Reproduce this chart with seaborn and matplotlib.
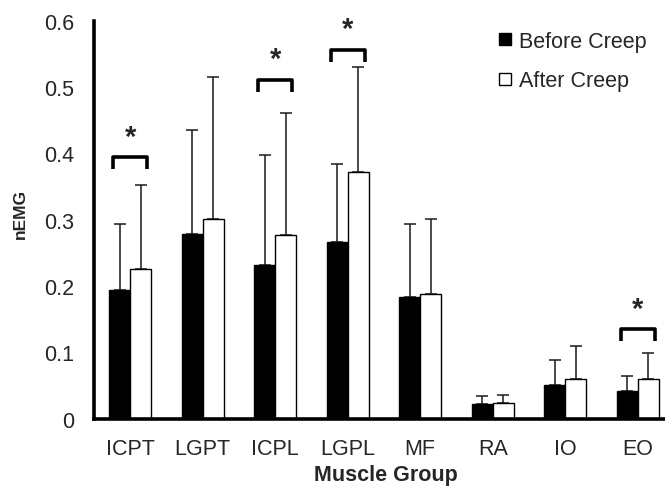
import numpy as np
import pandas as pd
import seaborn as sns
import matplotlib
matplotlib.use("Agg")
import matplotlib.pyplot as plt
from matplotlib.lines import Line2D

# ---- data ----
muscles = ["ICPT", "LGPT", "ICPL", "LGPL", "MF", "RA", "IO", "EO"]
before_mean = [0.194, 0.278, 0.231, 0.266, 0.184, 0.022, 0.051, 0.042]
before_upper = [0.294, 0.435, 0.397, 0.384, 0.294, 0.034, 0.089, 0.064]
after_mean = [0.225, 0.301, 0.277, 0.372, 0.188, 0.023, 0.059, 0.060]
after_upper = [0.352, 0.515, 0.461, 0.531, 0.301, 0.036, 0.109, 0.099]
sig_groups = ["ICPT", "ICPL", "LGPL", "EO"]
sig_levels = [0.394, 0.511, 0.556, 0.135]
conditions = ["Before Creep", "After Creep"]
yticks = [0, 0.1, 0.2, 0.3, 0.4, 0.5, 0.6]
ytick_labels = ["0", "0.1", "0.2", "0.3", "0.4", "0.5", "0.6"]

df = pd.DataFrame({
    "Muscle": muscles * 2,
    "Condition": [conditions[0]] * len(muscles) + [conditions[1]] * len(muscles),
    "nEMG": before_mean + after_mean,
    "upper": before_upper + after_upper,
})

sns.set_style("white")
plt.rcParams["font.family"] = ["Liberation Sans", "DejaVu Sans"]

fig = plt.figure(figsize=(6.65, 4.89), dpi=100)
ax = fig.add_axes([94 / 665, 69.4 / 489, 580 / 665, 397.8 / 489])

sns.barplot(data=df, x="Muscle", y="nEMG", hue="Condition", order=muscles,
            hue_order=conditions, palette=["black", "white"], edgecolor="black",
            linewidth=1.0, width=0.58, gap=0, errorbar=None, legend=False, ax=ax)

# error bars (upper only) from bar patches
patches = [p for p in ax.patches if p.get_width() > 0]
patches = sorted(patches, key=lambda p: p.get_x())
uppers = []
for b, a in zip(before_upper, after_upper):
    uppers += [b, a]
xs = [p.get_x() + p.get_width() / 2 for p in patches]
hs = [p.get_height() for p in patches]
ax.errorbar(xs, hs, yerr=[np.zeros(len(hs)), np.array(uppers) - np.array(hs)],
            fmt="none", ecolor="#1a1a1a", elinewidth=1.1, capsize=4, capthick=1.1,
            zorder=1)
for p in patches:
    p.set_zorder(2)

# significance brackets
for g, lvl in zip(sig_groups, sig_levels):
    c = muscles.index(g)
    x0, x1 = c - 0.235, c + 0.235
    ax.plot([x0, x0, x1, x1], [lvl - 0.018, lvl, lvl, lvl - 0.018], color="black",
            lw=2.6, solid_joinstyle="round", solid_capstyle="butt", clip_on=False)
    ax.text(c, lvl + 0.031, "*", ha="center", va="center", fontsize=21,
            fontweight="bold", clip_on=False)

ax.set_xlim(-0.5, len(muscles) - 0.5)
ax.set_ylim(0, 0.6)
ax.set_yticks(yticks)
ax.set_yticklabels(ytick_labels, fontsize=15.5)

ax.set_xticks(np.arange(-0.5, len(muscles), 1.0))
ax.set_xticklabels([])
ax.set_xticks(np.arange(len(muscles)), minor=True)
ax.set_xticklabels(muscles, minor=True, fontsize=15.5)
ax.tick_params(axis="x", which="major", direction="out", length=6, width=2.2, color="black")
ax.tick_params(axis="x", which="minor", length=0, pad=14)
ax.tick_params(axis="y", direction="inout", length=11, width=2.2, color="black", pad=9)

for s in ["top", "right"]:
    ax.spines[s].set_visible(False)
for s in ["left", "bottom"]:
    ax.spines[s].set_linewidth(2.6)
    ax.spines[s].set_color("black")

ax.set_xlabel("Muscle Group", fontsize=15.5, fontweight="bold")
ax.xaxis.set_label_coords((385.5 - 94) / 580, (419.6 - 465) / 397.8)
ax.set_ylabel("nEMG", fontsize=12.5, fontweight="bold")
ax.yaxis.set_label_coords((28 - 94) / 580, (419.6 - 214) / 397.8)

handles = [
    Line2D([], [], marker="s", linestyle="none", markersize=9,
           markerfacecolor="black", markeredgecolor="black", markeredgewidth=1),
    Line2D([], [], marker="s", linestyle="none", markersize=9,
           markerfacecolor="white", markeredgecolor="black", markeredgewidth=1),
]
fig.legend(handles, conditions, loc="upper left", bbox_to_anchor=(496 / 665, 1 - 32 / 489),
           frameon=False, fontsize=15.5, handlelength=0.8, handletextpad=0.25,
           labelspacing=0.85, borderaxespad=0, borderpad=0)

fig.savefig("out.png", dpi=100)
